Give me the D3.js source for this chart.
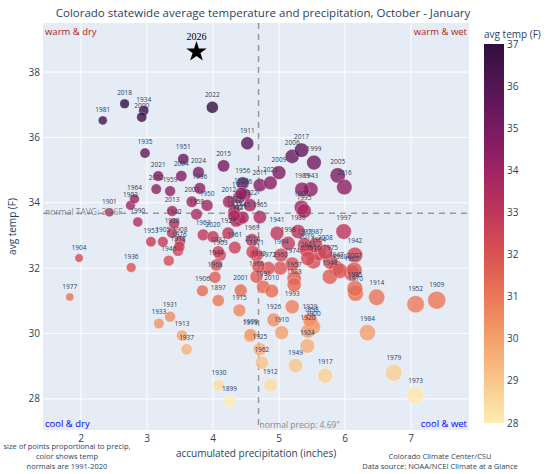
<!DOCTYPE html>
<html>
<head>
<meta charset="utf-8">
<script src="https://cdn.jsdelivr.net/npm/d3@7"></script>
<style>
  body { margin: 0; background: #fff; }
  svg { font-family: "Open Sans", sans-serif; }
</style>
</head>
<body>
<svg id="chart" width="547" height="474"></svg>
<script>
// season data, Oct - Jan (labelled by January year)
const years = [1896,1897,1898,1899,1900,1901,1902,1903,1904,1905,1906,1907,1908,1909,1910,1911,1912,1913,1914,1915,
  1916,1917,1918,1919,1920,1921,1922,1923,1924,1925,1926,1927,1928,1929,1930,1931,1932,1933,1934,1935,
  1936,1937,1938,1939,1940,1941,1942,1943,1944,1945,1946,1947,1948,1949,1950,1951,1952,1953,1954,1955,
  1956,1957,1958,1959,1960,1961,1962,1963,1964,1965,1966,1967,1968,1969,1970,1971,1972,1973,1974,1975,
  1976,1977,1978,1979,1980,1981,1982,1983,1984,1985,1986,1987,1988,1989,1990,1991,1992,1993,1994,1995,
  1996,1997,1998,1999,2000,2001,2002,2003,2004,2005,2006,2007,2008,2009,2010,2011,2012,2013,2014,2015,
  2016,2017,2018,2019,2020,2021,2022,2023,2024,2025];
const precip = [4.48,4.08,5.49,4.25,5.52,2.43,2.75,4.11,1.97,3.24,3.84,5.34,3.50,7.39,5.04,4.52,4.87,3.53,6.48,4.40,
  5.52,5.70,3.47,4.56,5.44,4.40,4.56,4.32,5.43,4.71,4.92,4.23,3.38,5.47,4.09,3.35,4.35,3.18,2.95,2.97,
  2.76,3.60,4.40,4.57,3.41,4.97,6.15,5.48,4.05,4.45,3.33,5.87,5.77,5.25,3.91,3.55,7.07,3.06,5.60,4.32,
  4.45,5.23,3.75,3.35,5.02,4.33,4.74,3.85,2.81,4.71,4.66,6.10,4.03,4.59,6.16,4.66,4.84,7.07,5.20,5.78,
  3.49,1.83,4.43,6.74,5.92,2.33,4.08,5.39,6.34,6.15,5.29,5.55,5.23,5.35,2.86,4.76,4.69,5.20,5.03,5.38,
  3.80,5.98,5.14,5.53,2.92,4.42,3.14,3.68,3.52,5.89,5.20,6.14,5.70,5.00,4.89,4.71,4.24,3.38,4.60,4.16,
  5.99,5.34,2.66,5.42,4.00,3.17,3.99,5.44,3.78,4.87];
const temps = [34.25,31.01,30.31,27.92,30.20,33.71,33.92,32.40,32.31,32.81,31.31,33.86,32.83,31.02,30.03,35.82,28.42,29.94,31.11,30.71,
  32.20,28.71,32.53,29.93,30.08,33.50,33.93,33.73,29.62,29.52,30.42,33.07,33.08,30.42,28.42,30.52,33.45,30.31,36.82,35.52,
  32.02,29.52,34.18,29.96,33.37,33.07,32.40,34.41,32.10,33.55,32.23,32.00,31.74,29.02,33.92,35.34,30.90,32.81,32.45,33.60,
  34.60,31.69,33.65,34.36,32.00,32.63,29.11,33.02,34.12,33.56,31.74,31.85,31.72,32.86,31.23,32.40,32.00,28.11,32.13,32.20,
  32.66,31.12,34.28,28.80,31.92,36.52,32.50,32.71,30.03,31.38,33.12,32.70,31.49,34.41,33.41,31.43,32.05,30.82,32.40,33.75,
  34.44,33.12,32.76,35.23,36.62,31.32,34.42,34.03,34.82,34.84,35.42,31.94,32.50,34.92,31.30,34.54,34.03,33.75,32.50,35.13,
  34.48,35.61,37.03,32.56,32.96,34.82,36.92,32.30,34.93,34.61];

// current season (star)
const current = { year: 2026, precip: 3.75, temp: 38.62 };

// 1991-2020 normals
const normalPrecip = 4.69;
const normalTemp = 33.68;
const normalLabels = ['normal TAVG: 33.6F', 'normal precip: 4.69"'];

const xTicks = [2, 3, 4, 5, 6, 7];
const yTicks = [28, 30, 32, 34, 36, 38];
const cbTicks = [28, 29, 30, 31, 32, 33, 34, 35, 36, 37];
const matter = ['rgb(253, 237, 176)', 'rgb(250, 205, 145)', 'rgb(246, 173, 119)', 'rgb(240, 142, 98)',
  'rgb(231, 109, 84)', 'rgb(216, 80, 83)', 'rgb(195, 56, 90)', 'rgb(168, 40, 96)',
  'rgb(138, 29, 99)', 'rgb(107, 24, 93)', 'rgb(76, 21, 80)', 'rgb(47, 15, 61)'];

const svg = d3.select('#chart');
const plot = { left: 43, right: 469, top: 23, bottom: 430 };

const x = d3.scaleLinear().domain([1.424, 7.879]).range([plot.left, plot.right]);
const y = d3.scaleLinear().domain([27.05, 39.5]).range([plot.bottom, plot.top]);
const color = d3.scaleLinear()
  .domain(matter.map((c, i) => 28 + 9 * i / (matter.length - 1)))
  .range(matter).clamp(true);
const diam = d3.scaleLinear().domain([2, 7]).range([8.4, 17.3]);

// background + grid
svg.append('rect')
  .attr('x', plot.left).attr('y', plot.top)
  .attr('width', plot.right - plot.left).attr('height', plot.bottom - plot.top)
  .style('fill', '#E5ECF6');

svg.append('g').selectAll('line')
  .data(xTicks).enter().append('line')
  .attr('x1', d => x(d)).attr('x2', d => x(d))
  .attr('y1', plot.top).attr('y2', plot.bottom)
  .style('stroke', '#fff').style('stroke-width', 1);
svg.append('g').selectAll('line')
  .data(yTicks).enter().append('line')
  .attr('x1', plot.left).attr('x2', plot.right)
  .attr('y1', d => y(d)).attr('y2', d => y(d))
  .style('stroke', '#fff').style('stroke-width', 1);

// tick labels
svg.append('g').selectAll('text')
  .data(xTicks).enter().append('text')
  .attr('x', d => x(d)).attr('y', 442)
  .attr('text-anchor', 'middle')
  .style('font-size', '10px').style('fill', '#2a3f5f')
  .text(d => d);
svg.append('g').selectAll('text')
  .data(yTicks).enter().append('text')
  .attr('x', 40).attr('y', d => y(d) + 3.5)
  .attr('text-anchor', 'end')
  .style('font-size', '10px').style('fill', '#2a3f5f')
  .text(d => d);

// normal lines
svg.append('line')
  .attr('x1', plot.left).attr('x2', plot.right)
  .attr('y1', y(normalTemp)).attr('y2', y(normalTemp))
  .style('stroke', '#999').style('stroke-width', 1.5).style('stroke-dasharray', '6,5');
svg.append('line')
  .attr('x1', x(normalPrecip)).attr('x2', x(normalPrecip))
  .attr('y1', plot.top).attr('y2', plot.bottom)
  .style('stroke', '#999').style('stroke-width', 1.5).style('stroke-dasharray', '6,5');

// points
const pts = years.map((yr, i) => ({ year: yr, p: precip[i], t: temps[i] }));
svg.append('g').selectAll('circle')
  .data(pts).enter().append('circle')
  .attr('cx', d => x(d.p)).attr('cy', d => y(d.t))
  .attr('r', d => diam(d.p) / 2)
  .style('fill', d => color(d.t))
  .style('fill-opacity', 0.8)
  .style('stroke', '#fff').style('stroke-width', 0.5).style('stroke-opacity', 0.6);

svg.append('g').selectAll('text')
  .data(pts).enter().append('text')
  .attr('x', d => x(d.p)).attr('y', d => y(d.t) - diam(d.p) / 2 - 4)
  .attr('text-anchor', 'middle')
  .style('font-size', '6.5px').style('fill', '#2a3f5f')
  .text(d => d.year);

// normal labels
svg.append('text')
  .attr('x', 45).attr('y', y(normalTemp) + 2)
  .style('font-size', '8.5px').style('fill', '#8a8a8a')
  .text(normalLabels[0]);
svg.append('text')
  .attr('x', x(normalPrecip) + 1).attr('y', 428)
  .style('font-size', '8.5px').style('fill', '#8a8a8a')
  .text(normalLabels[1]);

// current season star
svg.append('path')
  .attr('d', d3.symbol(d3.symbolStar, 130)())
  .attr('transform', `translate(${x(current.precip)},${y(current.temp)})`)
  .style('fill', '#000');
svg.append('text')
  .attr('x', x(current.precip)).attr('y', y(current.temp) - 12)
  .attr('text-anchor', 'middle')
  .style('font-family', '"Liberation Serif", serif')
  .style('font-size', '10px').style('fill', '#000')
  .text(current.year);

// quadrant labels
const corner = (tx, ty, anchor, fill, s) => svg.append('text')
  .attr('x', tx).attr('y', ty).attr('text-anchor', anchor)
  .style('font-size', '9.5px').style('fill', fill).text(s);
corner(45, 35, 'start', '#b22222', 'warm & dry');
corner(467, 35, 'end', '#b22222', 'warm & wet');
corner(45, 427, 'start', '#0000ff', 'cool & dry');
corner(467, 427, 'end', '#0000ff', 'cool & wet');

// title + axis titles
svg.append('text')
  .attr('x', 263).attr('y', 17).attr('text-anchor', 'middle')
  .style('font-size', '11.5px').style('fill', '#2a3f5f')
  .text('Colorado statewide average temperature and precipitation, October - January');
svg.append('text')
  .attr('x', (plot.left + plot.right) / 2).attr('y', 457).attr('text-anchor', 'middle')
  .style('font-size', '10px').style('fill', '#2a3f5f')
  .text('accumulated precipitation (inches)');
svg.append('text')
  .attr('transform', `translate(16,${(plot.top + plot.bottom) / 2}) rotate(-90)`)
  .attr('text-anchor', 'middle')
  .style('font-size', '10px').style('fill', '#2a3f5f')
  .text('avg temp (F)');

// notes
svg.append('g').selectAll('text')
  .data(['size of points proportional to precip,', 'color shows temp', 'normals are 1991-2020'])
  .enter().append('text')
  .attr('x', 67).attr('y', (d, i) => 449 + i * 10).attr('text-anchor', 'middle')
  .style('font-size', '7.5px').style('fill', '#2a3f5f')
  .text(d => d);
svg.append('g').selectAll('text')
  .data(['Colorado Climate Center/CSU', 'Data source: NOAA/NCEI Climate at a Glance'])
  .enter().append('text')
  .attr('x', 440).attr('y', (d, i) => 459 + i * 10).attr('text-anchor', 'middle')
  .style('font-size', '7.5px').style('fill', '#2a3f5f')
  .text(d => d);

// colorbar
const cb = { x: 484, w: 20, top: 44, bottom: 423 };
const cbY = d3.scaleLinear().domain([28, 37]).range([cb.bottom, cb.top]);
const grad = svg.append('defs').append('linearGradient')
  .attr('id', 'cbgrad').attr('x1', 0).attr('y1', 1).attr('x2', 0).attr('y2', 0);
grad.selectAll('stop').data(matter).enter().append('stop')
  .attr('offset', (d, i) => i / (matter.length - 1))
  .attr('stop-color', d => d);
svg.append('rect')
  .attr('x', cb.x).attr('y', cb.top)
  .attr('width', cb.w).attr('height', cb.bottom - cb.top)
  .style('fill', 'url(#cbgrad)');
svg.append('g').selectAll('text')
  .data(cbTicks).enter().append('text')
  .attr('x', cb.x + cb.w + 3).attr('y', d => cbY(d) + 3.5)
  .style('font-size', '10px').style('fill', '#2a3f5f')
  .text(d => d);
svg.append('text')
  .attr('x', cb.x).attr('y', 38)
  .style('font-size', '10px').style('fill', '#2a3f5f')
  .text('avg temp (F)');
</script>
</body>
</html>
